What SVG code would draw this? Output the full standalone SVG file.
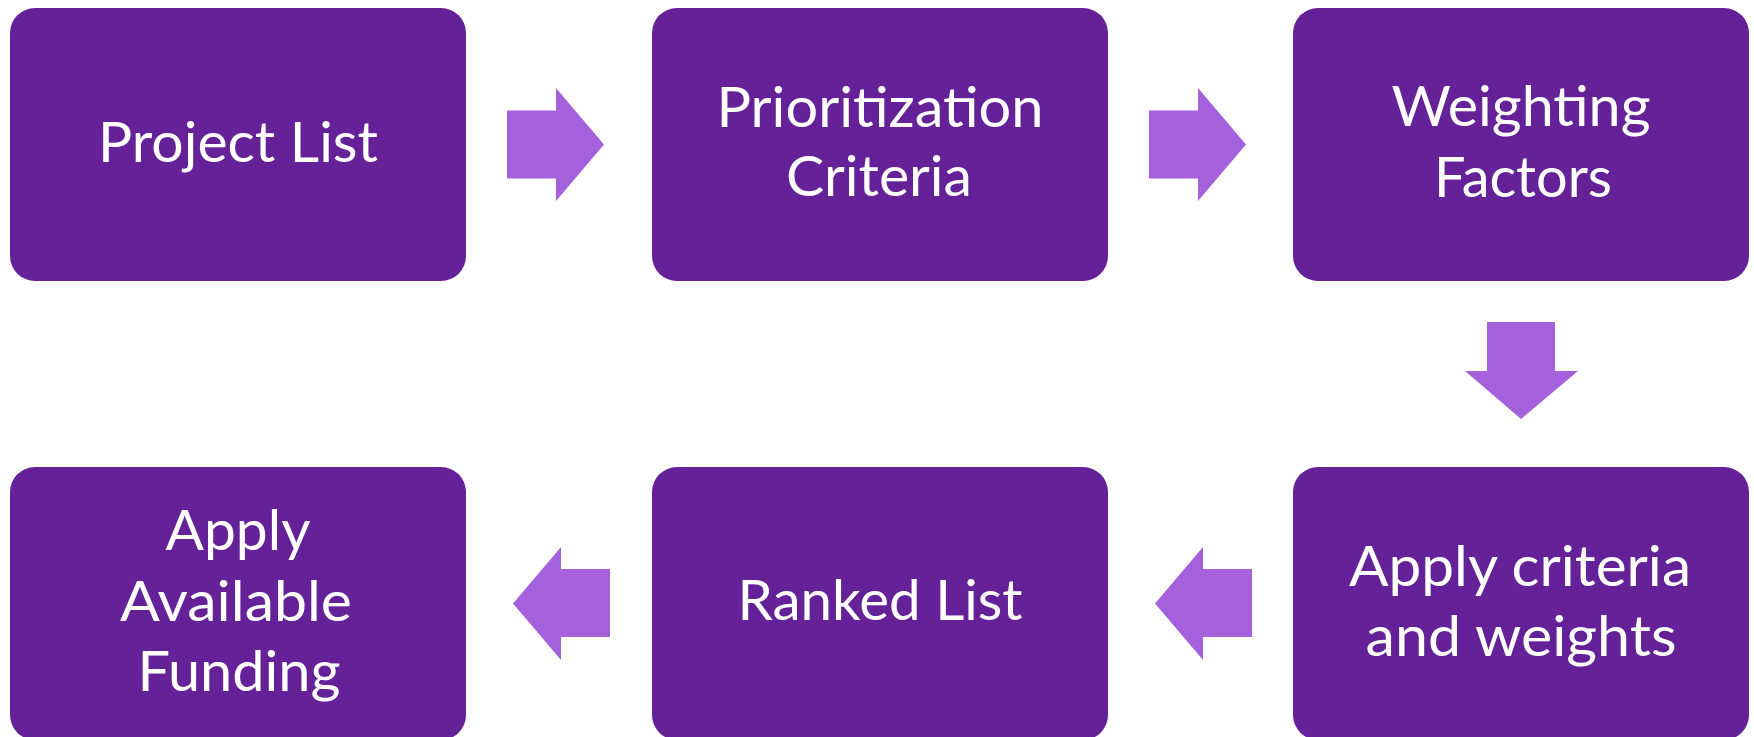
<svg xmlns="http://www.w3.org/2000/svg" width="1754" height="737" viewBox="0 0 1754 737">
<style>
.box{fill:#652198;}
.arr{fill:#A461DB;}
.lbl{font-family:Lato,"Open Sans","Liberation Sans",sans-serif;font-size:57px;fill:#ffffff;text-anchor:middle;}
</style>
<rect width="1754" height="737" fill="#ffffff"/>
<g id="connectors">
<polygon class="arr" points="507,110.5 556,110.5 556,88 604,144.5 556,201 556,178.5 507,178.5"/>
<polygon class="arr" points="1149,110.5 1198,110.5 1198,88 1246,144.5 1198,201 1198,178.5 1149,178.5"/>
<polygon class="arr" points="1487,322 1555,322 1555,371 1578,371 1521,419 1465,371 1487,371"/>
<polygon class="arr" points="1252,569 1203,569 1203,547 1155,603.5 1203,660 1203,637 1252,637"/>
<polygon class="arr" points="610,569 561,569 561,547 513,603.5 561,660 561,637 610,637"/>
</g>
<g id="node-project-list">
<rect class="box" x="10" y="8" width="456" height="273" rx="25" ry="25"/>
<text class="lbl" x="238" y="162" textLength="280" lengthAdjust="spacingAndGlyphs">Project List</text>
</g>
<g id="node-prioritization-criteria">
<rect class="box" x="652" y="8" width="456" height="273" rx="25" ry="25"/>
<text class="lbl" x="880" y="126.5" textLength="327" lengthAdjust="spacingAndGlyphs">Prioritization</text>
<text class="lbl" x="879" y="196" textLength="186" lengthAdjust="spacingAndGlyphs">Criteria</text>
</g>
<g id="node-weighting-factors">
<rect class="box" x="1293" y="8" width="456" height="273" rx="25" ry="25"/>
<text class="lbl" x="1521" y="126" textLength="259" lengthAdjust="spacingAndGlyphs">Weighting</text>
<text class="lbl" x="1523" y="196.5" textLength="178" lengthAdjust="spacingAndGlyphs">Factors</text>
</g>
<g id="node-apply-criteria">
<rect class="box" x="1293" y="467" width="456" height="273" rx="25" ry="25"/>
<text class="lbl" x="1520" y="586" textLength="342" lengthAdjust="spacingAndGlyphs">Apply criteria</text>
<text class="lbl" x="1521" y="655.5" textLength="311" lengthAdjust="spacingAndGlyphs">and weights</text>
</g>
<g id="node-ranked-list">
<rect class="box" x="652" y="467" width="456" height="273" rx="25" ry="25"/>
<text class="lbl" x="880" y="620" textLength="285" lengthAdjust="spacingAndGlyphs">Ranked List</text>
</g>
<g id="node-apply-funding">
<rect class="box" x="10" y="467" width="456" height="273" rx="25" ry="25"/>
<text class="lbl" x="238" y="550" textLength="145" lengthAdjust="spacingAndGlyphs">Apply</text>
<text class="lbl" x="236" y="620.5" textLength="232" lengthAdjust="spacingAndGlyphs">Available</text>
<text class="lbl" x="239" y="690.5" textLength="203" lengthAdjust="spacingAndGlyphs">Funding</text>
</g>
</svg>
